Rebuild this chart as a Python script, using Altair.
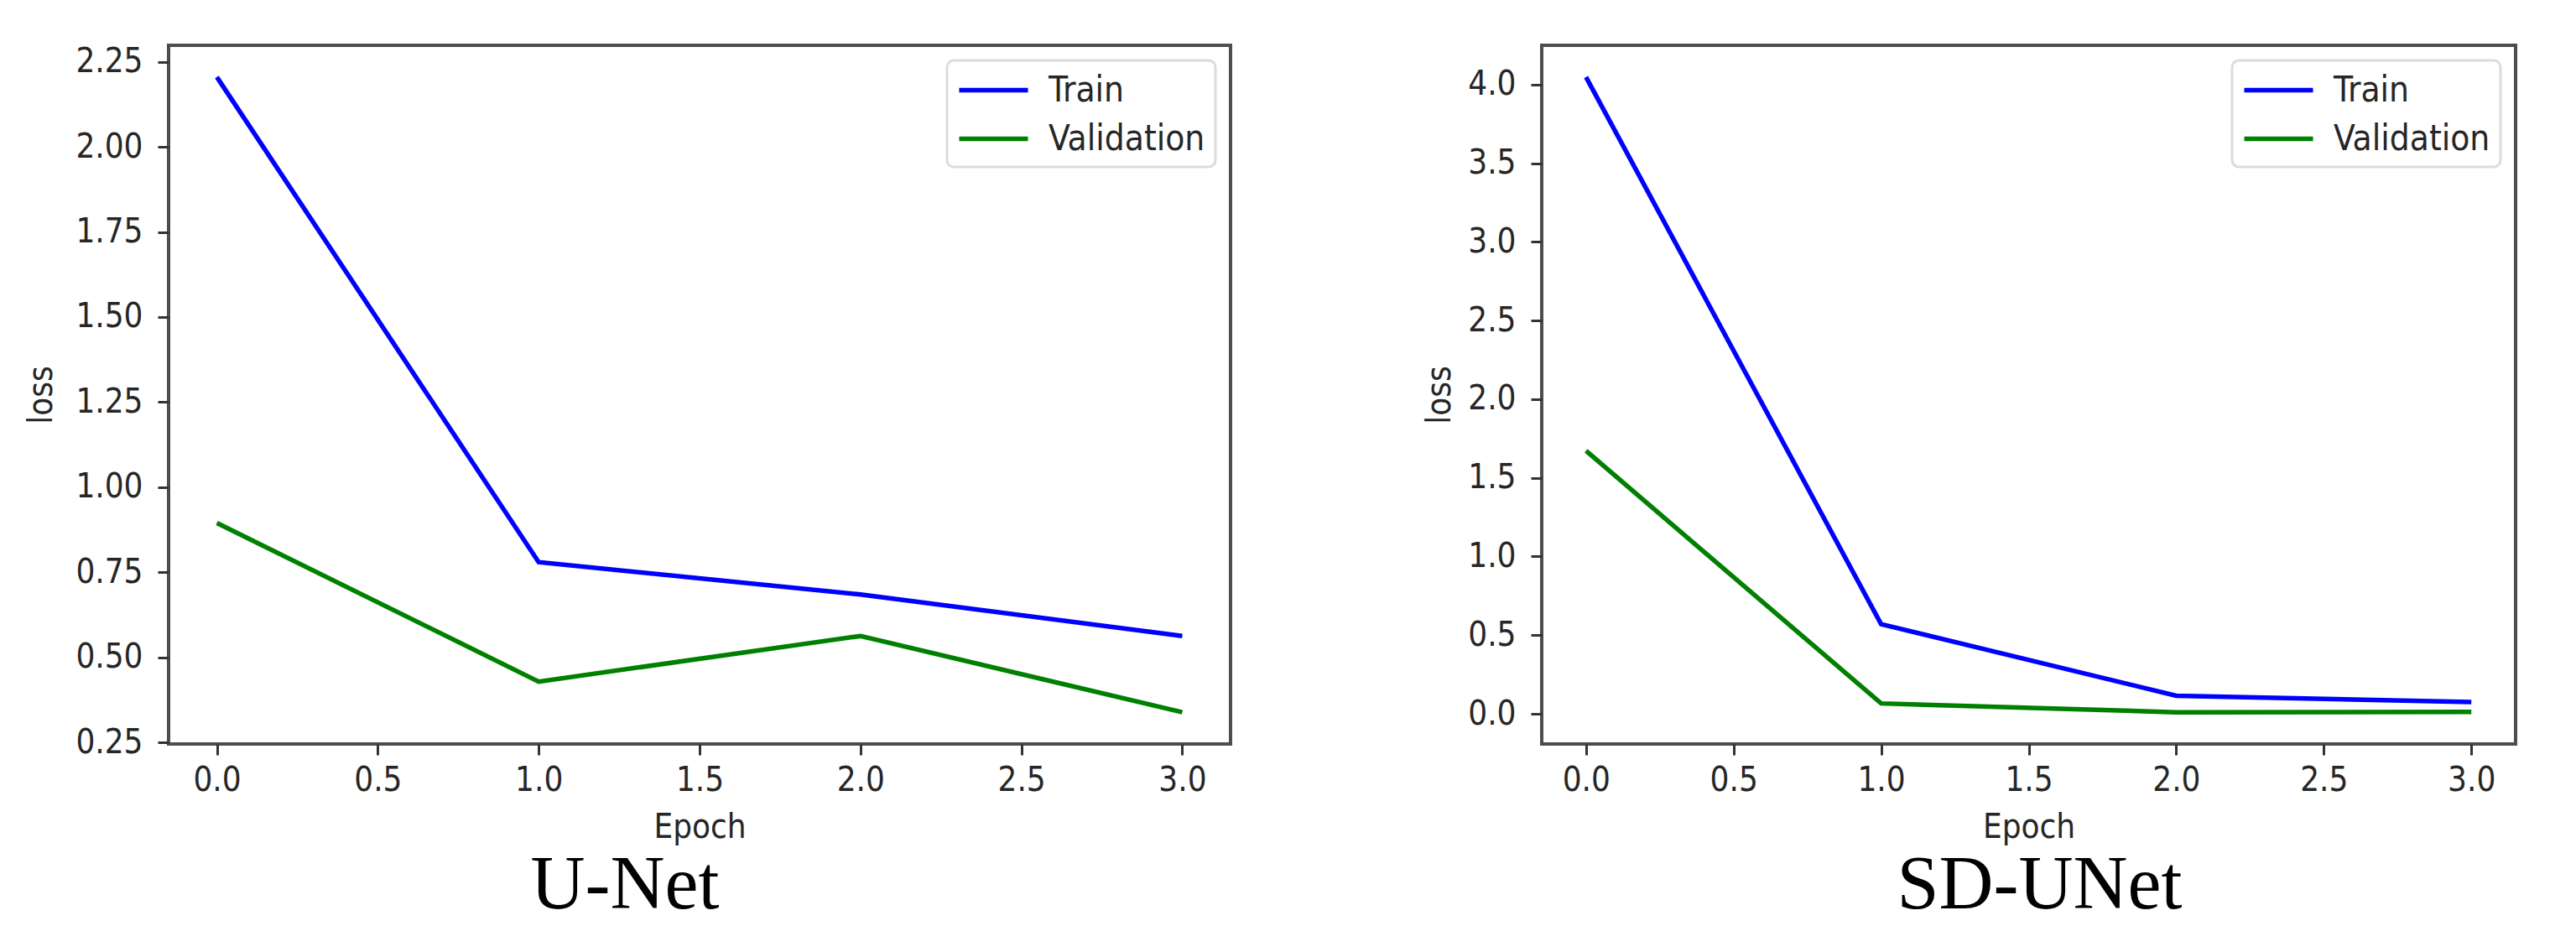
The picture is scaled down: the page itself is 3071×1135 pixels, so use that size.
import altair as alt
import pandas as pd

# ---- data ----
epochs = [0, 1, 2, 3]
unet_train = [2.205, 0.78, 0.685, 0.563]
unet_val = [0.895, 0.429, 0.563, 0.339]
sd_train = [4.048, 0.57, 0.115, 0.075]
sd_val = [1.672, 0.066, 0.01, 0.012]

series_names = ["Train", "Validation"]
series_colors = ["#0000ff", "#008000"]

x_ticks = [0.0, 0.5, 1.0, 1.5, 2.0, 2.5, 3.0]
unet_yticks = [0.25, 0.50, 0.75, 1.00, 1.25, 1.50, 1.75, 2.00, 2.25]
sd_yticks = [0.0, 0.5, 1.0, 1.5, 2.0, 2.5, 3.0, 3.5, 4.0]

TICK_FONT = "DejaVu Sans Condensed, DejaVu Sans"


def frame(train, val):
    rows = []
    for e, t, v in zip(epochs, train, val):
        rows.append({"epoch": e, "loss": t, "series": "Train"})
        rows.append({"epoch": e, "loss": v, "series": "Validation"})
    return pd.DataFrame(rows)


def padded(lo, hi, frac=0.05):
    m = (hi - lo) * frac
    return [lo - m, hi + m]


def panel(df, yticks, yfmt, width, caption, cap_dx, ytitle_pad):
    return (
        alt.Chart(
            df,
            title=alt.TitleParams(
                text=caption,
                orient="bottom",
                anchor="middle",
                frame="group",
                dx=cap_dx,
                offset=6,
                font="Liberation Serif",
                fontSize=90,
                fontWeight="normal",
                color="black",
            ),
        )
        .mark_line(strokeWidth=5.5)
        .encode(
            x=alt.X(
                "epoch:Q",
                scale=alt.Scale(domain=padded(min(epochs), max(epochs)), nice=False, zero=False),
                axis=alt.Axis(values=x_ticks, format=".1f", title="Epoch", titlePadding=16, labelPadding=10),
            ),
            y=alt.Y(
                "loss:Q",
                scale=alt.Scale(domain=padded(df["loss"].min(), df["loss"].max()), nice=False, zero=False),
                axis=alt.Axis(values=yticks, format=yfmt, title="loss", titlePadding=ytitle_pad, labelPadding=18),
            ),
            color=alt.Color(
                "series:N",
                scale=alt.Scale(domain=series_names, range=series_colors),
                legend=alt.Legend(
                    title=None,
                    orient="top-right",
                    offset=18,
                    padding=12,
                    fillColor="white",
                    strokeColor="#dcdcdc",
                    cornerRadius=8,
                    symbolType="M-2,0L2,0",
                    symbolSize=1681,
                    symbolStrokeWidth=5.5,
                    symbolOffset=20,
                    labelOffset=42,
                    labelFontSize=42,
                    labelFont=TICK_FONT,
                    labelColor="#262626",
                    labelLimit=600,
                    rowPadding=13,
                ),
            ),
        )
        .properties(width=width, height=833)
    )


left = panel(frame(unet_train, unet_val), unet_yticks, ".2f", 1266, "U-Net", -89, 20)
right = panel(frame(sd_train, sd_val), sd_yticks, ".1f", 1161, "SD-UNet", 13, 13)

chart = (
    alt.hconcat(left, right, spacing=225)
    .resolve_scale(color="independent")
    .properties(padding={"left": 19, "top": 43, "right": 5, "bottom": 5})
    .configure_view(stroke="#4d4d4d", strokeWidth=4)
    .configure_legend(strokeWidth=3)
    .configure_axis(
        domain=False,
        grid=False,
        tickColor="#333333",
        tickWidth=3,
        tickSize=13,
        labelFontSize=40,
        labelFont=TICK_FONT,
        labelColor="#262626",
        titleFontSize=40,
        titleFont=TICK_FONT,
        titleFontWeight="normal",
        titleColor="#262626",
    )
)

chart.save("out.html", embed_options={"renderer": "svg", "actions": False})
